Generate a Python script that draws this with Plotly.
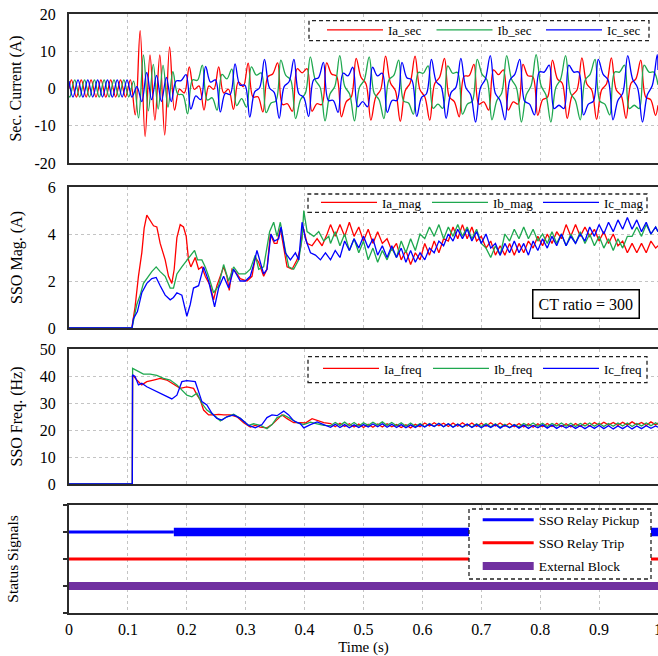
import plotly.graph_objects as go

FONT = "Liberation Serif, Times New Roman, serif"
RED = "#ff0000"
GREEN = "#1fa84f"
BLUE = "#0000ff"
PURPLE = "#7030a0"

# ---------------- Panel 1: secondary currents (time in ms, value in A) ----------------
IA_SEC_T = [0, 4.2, 12.5, 20.8, 29.2, 37.5, 45.8, 54.2, 62.5, 70.8, 79.2, 87.5, 95.8, 104.2, 112.5, 120.8,
            129.2, 137.5, 145.8, 154.2, 162.5, 170.8, 179.2, 187.5, 195.8, 204.2, 212.5, 220.8, 229.2, 237.5,
            245.8, 254.2, 262.5, 270.8, 279.2, 287.5, 295.8, 304.2, 312.5, 320.8, 329.2, 337.5, 345.8, 354.2,
            362.5, 370.8, 379.2, 387.5, 395.8, 404.2, 412.5, 420.8, 429.2, 437.5, 445.8, 454.2, 462.5, 470.8,
            479.2, 487.5, 495.8, 504.2, 512.5, 520.8, 529.2, 537.5, 545.8, 554.2, 562.5, 570.8, 579.2, 587.5,
            595.8, 604.2, 612.5, 620.8, 629.2, 637.5, 645.8, 654.2, 662.5, 670.8, 679.2, 687.5, 695.8, 704.2,
            712.5, 720.8, 729.2, 737.5, 745.8, 754.2, 762.5, 770.8, 779.2, 787.5, 795.8, 804.2, 812.5, 820.8,
            829.2, 837.5, 845.8, 854.2, 862.5, 870.8, 879.2, 887.5, 895.8, 904.2, 912.5, 920.8, 929.2, 937.5,
            945.8, 954.2, 962.5, 970.8, 979.2, 987.5, 995.8, 1000]
IA_SEC = [0.0, 2.3, -2.3, 2.3, -2.3, 2.3, -2.3, 2.3, -2.3, 2.3, -2.3, 2.3, -2.3, 2.3,
          -7.1, 15.5, -12.9, 9.0, -8.5, 9.0, -12.5, 11.2, -5.8,
          -0.2, -1.2, 5.8, -0.2, 0.7, -5.8, 0.7, -0.2, 5.8, -1.2, -0.2, -5.6, 1.8, 0.5,
          6.8, -2.3, -2.2, -6.3, 3.1,
          3.9, 6.9, -4.3, -4.1, -6.1, 5.3, 4.2, 5.3, -6.1, -4.1,
          -4.3, 6.9, 3.9, 3.3, -7.6, -3.5, -2.3, 8.1, 3.0, 1.3,
          -8.5, -2.3, -0.3, 8.7, 1.5, -0.6, -8.8, -0.6, 1.5, 8.7,
          -0.3, -2.3, -8.5, 1.3, 3.0, 8.1, -2.3, -3.5, -7.6, 3.3,
          3.4, 6.5, -4.2, -3.6, -5.8, 5.0, 3.7, 5.0, -5.8, -3.6,
          -4.2, 6.5, 3.4, 3.2, -7.2, -3.0, -2.3, 7.6, 2.6, 1.4,
          -8.0, -1.9, -0.4, 8.2, 1.2, -0.4, -8.3, -0.4, 1.2, 8.2,
          -0.4, -1.9, -8.0, 1.4, 2.6, 7.6, -2.3, -3.0, -7.2, -4.5]

IB_SEC_T = [0, 1.4, 9.7, 18.1, 26.4, 34.7, 43.1, 51.4, 59.7, 68.1, 76.4, 84.7, 93.1, 101.4, 109.7, 118.1,
            126.4, 134.7, 143.1, 151.4, 159.7, 168.1, 176.4, 184.7, 193.1, 201.4, 209.7, 218.1, 226.4, 234.7,
            243.1, 251.4, 259.7, 268.1, 276.4, 284.7, 293.1, 301.4, 309.7, 318.1, 326.4, 334.7, 343.1, 351.4,
            359.7, 368.1, 376.4, 384.7, 393.1, 401.4, 409.7, 418.1, 426.4, 434.7, 443.1, 451.4, 459.7, 468.1,
            476.4, 484.7, 493.1, 501.4, 509.7, 518.1, 526.4, 534.7, 543.1, 551.4, 559.7, 568.1, 576.4, 584.7,
            593.1, 601.4, 609.7, 618.1, 626.4, 634.7, 643.1, 651.4, 659.7, 668.1, 676.4, 684.7, 693.1, 701.4,
            709.7, 718.1, 726.4, 734.7, 743.1, 751.4, 759.7, 768.1, 776.4, 784.7, 793.1, 801.4, 809.7, 818.1,
            826.4, 834.7, 843.1, 851.4, 859.7, 868.1, 876.4, 884.7, 893.1, 901.4, 909.7, 918.1, 926.4, 934.7,
            943.1, 951.4, 959.7, 968.1, 976.4, 984.7, 993.1, 1000]
IB_SEC = [-2.0, -2.3, 2.3, -2.3, 2.3, -2.3, 2.3, -2.3, 2.3, -2.3, 2.3, -2.3, 2.3, -2.3,
          2.0, -7.9, 9.0, -6.0, 6.5, -5.5, 6.2, -5.0, 4.5,
          -1.5, -1.7, -6.8, 2.3, 2.2, 6.3, -3.1, -2.5, -5.8, 3.8, 2.6, 5.2, -4.6, -2.7,
          -5.0, 5.8, 3.6, 4.2, -6.5,
          -3.9, -3.3, 7.6, 3.5, 2.3, -8.1, -3.0, -1.3, 8.5, 2.3,
          0.3, -8.7, -1.5, 0.6, 8.8, 0.6, -1.5, -8.7, 0.3, 2.3,
          8.5, -1.3, -3.0, -8.1, 2.3, 3.5, 7.6, -3.3, -3.9, -6.9,
          4.3, 4.1, 6.1, -5.3, -4.2, -5.3, 6.1, 4.1, 4.3, -6.9,
          -4.2, -3.4, 7.8, 3.8, 2.3, -8.4, -3.2, -1.2, 8.8, 2.5,
          0.2, -9.0, -1.7, 0.8, 9.1, 0.8, -1.7, -9.0, 0.2, 2.5,
          8.8, -1.2, -3.2, -8.4, 2.3, 3.8, 7.8, -3.4, -4.2, -7.1,
          4.4, 4.4, 6.3, -5.4, -4.5, -5.4, 6.3, 4.4, 4.4, 1.0]

IC_SEC_T = [0, 6.9, 15.3, 23.6, 31.9, 40.3, 48.6, 56.9, 65.3, 73.6, 81.9, 90.3, 98.6, 106.9, 115.3, 123.6,
            131.9, 140.3, 148.6, 156.9, 165.3, 173.6, 181.9, 190.3, 198.6, 206.9, 215.3, 223.6, 231.9, 240.3,
            248.6, 256.9, 265.3, 273.6, 281.9, 290.3, 298.6, 306.9, 315.3, 323.6, 331.9, 340.3, 348.6, 356.9,
            365.3, 373.6, 381.9, 390.3, 398.6, 406.9, 415.3, 423.6, 431.9, 440.3, 448.6, 456.9, 465.3, 473.6,
            481.9, 490.3, 498.6, 506.9, 515.3, 523.6, 531.9, 540.3, 548.6, 556.9, 565.3, 573.6, 581.9, 590.3,
            598.6, 606.9, 615.3, 623.6, 631.9, 640.3, 648.6, 656.9, 665.3, 673.6, 681.9, 690.3, 698.6, 706.9,
            715.3, 723.6, 731.9, 740.3, 748.6, 756.9, 765.3, 773.6, 781.9, 790.3, 798.6, 806.9, 815.3, 823.6,
            831.9, 840.3, 848.6, 856.9, 865.3, 873.6, 881.9, 890.3, 898.6, 906.9, 915.3, 923.6, 931.9, 940.3,
            948.6, 956.9, 965.3, 973.6, 981.9, 990.3, 998.6, 1000]
IC_SEC = [2.0, -2.3, 2.3, -2.3, 2.3, -2.3, 2.3, -2.3, 2.3, -2.3, 2.3, -2.3, 2.3, -2.3,
          0.5, -3.5, 4.3, -3.0, 3.5, -3.5, 3.0, -3.5, 2.0,
          2.1, 3.7, -5.5, -2.0, -3.0, 5.9, 1.7, 2.3, -6.3, -1.3, -1.6, 6.6, 0.9, 0.9,
          -7.7, -0.9, 0.2, 7.8, 0.2,
          -1.1, -8.0, 0.5, 1.8, 7.8, -1.4, -2.4, -7.5, 2.3, 2.9,
          7.0, -3.2, -3.2, -6.4, 4.1, 3.4, 5.7, -4.9, -3.5, -4.9,
          5.7, 3.4, 4.1, -6.4, -3.2, -3.2, 7.0, 2.9, 2.3, -7.5,
          -2.4, -1.4, 7.8, 1.8, 0.5, -8.0, -1.1, 0.3, 8.1, 0.3,
          -1.7, -9.0, 0.2, 2.5, 8.8, -1.2, -3.2, -8.4, 2.3, 3.8,
          7.8, -3.4, -4.2, -7.1, 4.4, 4.4, 6.3, -5.4, -4.5, -5.4,
          6.3, 4.4, 4.4, -7.1, -4.2, -3.4, 7.8, 3.8, 2.3, -8.4,
          -3.2, -1.2, 8.8, 2.5, 0.2, -9.0, -1.7, 0.8, 9.1, 5.0]

# ---------------- shared late-time sampling (s) for panels 2 and 3 ----------------
LATE_T = [0.444, 0.452, 0.46, 0.468, 0.476, 0.484, 0.492, 0.5, 0.508, 0.516, 0.524, 0.532, 0.54, 0.548,
          0.556, 0.564, 0.572, 0.58, 0.588, 0.596, 0.604, 0.612, 0.62, 0.628, 0.636, 0.644, 0.652, 0.66,
          0.668, 0.676, 0.684, 0.692, 0.7, 0.708, 0.716, 0.724, 0.732, 0.74, 0.748, 0.756, 0.764, 0.772,
          0.78, 0.788, 0.796, 0.804, 0.812, 0.82, 0.828, 0.836, 0.844, 0.852, 0.86, 0.868, 0.876, 0.884,
          0.892, 0.9, 0.908, 0.916, 0.924, 0.932, 0.94, 0.948, 0.956, 0.964, 0.972, 0.98, 0.988, 0.996, 1.0]

# ---------------- Panel 2: SSO magnitude (A) ----------------
IA_MAG_T_EARLY = [0, 0.1066, 0.1122, 0.1179, 0.1236, 0.1276, 0.1321, 0.1378, 0.1435, 0.1491, 0.1548, 0.1633,
                  0.169, 0.1746, 0.1786, 0.1832, 0.1888, 0.1944, 0.199, 0.2029, 0.2069, 0.2143, 0.22, 0.2256,
                  0.2313, 0.2398, 0.2455, 0.2511, 0.2625, 0.2681, 0.2721, 0.2767, 0.2823, 0.2908, 0.3022,
                  0.3107, 0.3163, 0.322, 0.3305, 0.3361, 0.3418, 0.3486, 0.3532, 0.3588, 0.3645, 0.3702,
                  0.3787, 0.3872, 0.3929, 0.3974, 0.4042, 0.4127, 0.4212, 0.4297, 0.4382]
IA_MAG_EARLY = [0, 0, 0.9, 2.2, 3.2, 4.25, 4.8, 4.6, 4.35, 4.3, 3.6, 2.9, 2.2, 1.9, 2.5, 3.85, 4.4, 4.3, 3.9,
                2.9, 2.6, 3.0, 2.5, 2.6, 2.2, 1.8, 1.2, 1.8, 2.6, 2.2, 1.6, 2.5, 2.4, 2.1, 2.0, 2.2, 3.0, 2.8,
                2.2, 2.5, 4.0, 3.6, 3.6, 4.25, 3.5, 2.6, 2.5, 2.9, 3.4, 4.3, 3.6, 3.5, 3.8, 3.5, 4.0]
IA_MAG_LATE = [4.4, 3.9, 4.4, 3.9, 4.5, 3.9, 4.3, 3.7, 4.2, 3.6, 4.1, 3.6, 3.8, 3.3, 3.6,
               2.9, 3.3, 2.7, 3.2, 2.9, 3.6, 3.1, 3.7, 3.2, 3.8, 3.7, 4.3, 3.8, 4.4, 3.8, 4.3, 3.7,
               3.9, 3.4, 3.7, 3.1, 3.5, 3.1, 3.6, 3.1, 3.6, 3.2, 3.7, 3.4, 3.9, 3.5, 4.0, 3.6, 4.1, 3.8,
               4.4, 3.9, 4.4, 3.9, 4.3, 3.9, 4.2, 3.7, 4.1, 3.6, 4.0, 3.5, 3.7, 3.2, 3.6, 3.2, 3.6, 3.2,
               3.7, 3.4, 3.5]

IB_MAG_T_EARLY = [0, 0.107, 0.1151, 0.1208, 0.1264, 0.1321, 0.1406, 0.148, 0.1548, 0.1633, 0.1718, 0.1774,
                  0.1832, 0.1916, 0.2001, 0.2069, 0.2132, 0.2183, 0.2256, 0.2313, 0.237, 0.2455, 0.254,
                  0.2625, 0.271, 0.2795, 0.288, 0.2993, 0.3078, 0.3163, 0.322, 0.3305, 0.3406, 0.3475,
                  0.3532, 0.3588, 0.3673, 0.373, 0.3815, 0.39, 0.3957, 0.3986, 0.4042, 0.4156, 0.424,
                  0.4325, 0.441]
IB_MAG_EARLY = [0, 0, 1.0, 1.4, 1.9, 2.1, 2.4, 2.6, 2.4, 2.2, 1.7, 1.7, 2.3, 2.6, 2.9, 3.1, 3.3, 2.9, 2.9,
                2.6, 2.2, 1.5, 1.8, 2.7, 2.0, 2.6, 2.3, 2.3, 2.5, 3.1, 2.5, 2.6, 4.1, 4.5, 3.9, 4.5, 3.3,
                2.6, 2.5, 2.9, 3.8, 5.0, 4.1, 3.9, 4.1, 3.7, 3.9]
IB_MAG_LATE = [3.6, 4.1, 3.5, 4.0, 3.3, 3.8, 3.2, 3.7,
               2.9, 3.4, 2.8, 3.3, 2.9, 3.4, 3.0, 3.7, 3.2, 3.8, 3.3, 4.0,
               3.8, 4.3, 3.9, 4.4, 3.8, 4.3, 3.9, 4.4, 3.9, 4.3, 3.8, 4.2, 3.6,
               3.4, 3.0, 3.5, 3.1, 4.0, 3.7, 4.2, 3.8, 4.3, 3.8, 4.2, 3.7,
               4.0, 3.6, 4.1, 3.6, 4.0, 3.5, 4.0, 3.6, 4.1, 3.6, 4.0, 3.5, 3.9,
               3.4, 3.8, 3.3, 3.8, 3.4, 3.9, 3.9, 4.3, 3.9, 4.4, 4.0, 4.3, 4.1]

IC_MAG_T_EARLY = [0, 0.107, 0.1094, 0.1162, 0.1236, 0.1321, 0.1406, 0.148, 0.1548, 0.1633, 0.1718, 0.1774,
                  0.1832, 0.1916, 0.2001, 0.2058, 0.2114, 0.22, 0.2285, 0.237, 0.2472, 0.254, 0.2625,
                  0.271, 0.2795, 0.2908, 0.2993, 0.3078, 0.3135, 0.3191, 0.3248, 0.3305, 0.3361, 0.3429,
                  0.3486, 0.356, 0.36, 0.3673, 0.3759, 0.3844, 0.39, 0.3957, 0.4014, 0.41, 0.4184, 0.4269,
                  0.4354]
IC_MAG_EARLY = [0, 0, 0.4, 0.7, 1.5, 1.9, 2.1, 2.15, 1.8, 1.4, 1.2, 1.3, 1.5, 1.4, 0.5, 1.0, 1.7, 1.8, 2.6,
                2.0, 0.9, 1.7, 2.2, 1.7, 2.5, 2.0, 2.0, 2.2, 2.7, 3.3, 2.8, 2.3, 2.5, 4.0, 3.7, 3.8, 4.3,
                3.2, 2.9, 3.2, 2.9, 4.5, 3.8, 3.2, 3.1, 2.9, 3.2]
IC_MAG_LATE = [2.9, 3.3, 3.0,
               3.7, 3.3, 3.8, 3.4, 3.9, 3.4, 3.8,
               3.1, 3.5, 3.0, 3.5, 3.0, 3.4,
               2.8, 3.3, 2.8, 3.2, 2.9, 3.4, 3.2,
               3.7, 3.5, 4.0, 3.7, 4.2,
               3.8, 4.2, 3.7, 4.1, 3.6, 4.0, 3.4,
               3.6, 3.1, 3.6, 3.2, 3.7, 3.2, 3.6, 3.1, 3.7, 3.3,
               3.8, 3.4, 3.9, 3.5, 4.0, 3.5, 3.9, 3.6, 4.0, 3.7,
               4.3, 3.9, 4.4, 4.0, 4.5, 4.1, 4.6, 4.2,
               4.7, 4.2, 4.6, 4.1, 4.5, 4.0, 4.3, 4.1]

# ---------------- Panel 3: SSO frequency (Hz) ----------------
IA_FREQ_T_EARLY = [0, 0.1075, 0.108, 0.1151, 0.1236, 0.1321, 0.1435, 0.1548, 0.1661, 0.1774, 0.1888, 0.2001,
                   0.2115, 0.2171, 0.2228, 0.2285, 0.237, 0.2455, 0.254, 0.2625, 0.2738, 0.2851, 0.2965,
                   0.3078, 0.3163, 0.3248, 0.3361, 0.3446, 0.3532, 0.3617, 0.3702, 0.3815, 0.3929, 0.4014,
                   0.4127, 0.424, 0.4325]
IA_FREQ_EARLY = [0, 0, 40.4, 38.5, 36.7, 37.9, 38.5, 39.1, 38.5, 36.9, 35.4, 36.0, 35.4, 33.1, 31.1, 27.4,
                 25.6, 25.6, 25.8, 25.6, 25.6, 24.9, 22.7, 21.1, 21.7, 21.1, 20.8, 22.0, 24.0, 25.6, 24.2,
                 22.7, 22.7, 22.6, 24.2, 23.4, 22.7]
IA_FREQ_LATE = [22.4, 21.2, 22.5, 21.3, 22.3, 21.1, 22.2, 20.9, 22.1, 21.0,
                22.2, 21.1, 22.3, 21.2, 22.0, 20.9, 21.9, 20.8, 22.1, 21.2,
                22.6, 21.5, 22.7, 21.6, 22.5, 21.3, 22.6, 21.4, 22.7, 21.5,
                22.6, 21.3, 22.5, 21.4, 22.7, 21.5, 22.6, 21.4, 22.5, 21.2,
                22.4, 21.1, 22.3, 21.0, 22.3, 21.2, 22.4, 21.3, 22.5, 21.2,
                22.3, 21.1, 22.4, 21.3, 22.6, 21.5, 22.8, 21.7, 22.9, 21.8,
                22.8, 21.7, 22.9, 21.8, 23.0, 21.9, 22.8, 21.7, 23.0, 21.9, 22.6]

IB_FREQ_T_EARLY = [0, 0.1075, 0.108, 0.1151, 0.1264, 0.1378, 0.1491, 0.1604, 0.1718, 0.1832, 0.1916, 0.2001,
                   0.2086, 0.2171, 0.2256, 0.2341, 0.2455, 0.2568, 0.2681, 0.2795, 0.2908, 0.305, 0.3135,
                   0.3248, 0.3361, 0.3446, 0.3532, 0.3645, 0.3759, 0.3872, 0.3986, 0.4099, 0.4212, 0.4325]
IB_FREQ_EARLY = [0, 0, 42.8, 42.0, 40.7, 40.7, 40.2, 39.1, 38.5, 36.7, 34.8, 32.9, 32.3, 33.6, 29.9, 27.4,
                 25.6, 23.4, 24.9, 25.8, 24.3, 21.7, 22.3, 21.7, 20.5, 22.0, 24.6, 25.6, 24.2, 22.7, 22.0,
                 22.9, 22.3, 21.7]
IB_FREQ_LATE = [21.6, 22.8, 21.7, 22.9, 21.6, 22.8, 21.5, 22.7, 21.7, 22.9,
                21.8, 23.0, 21.7, 22.8, 21.6, 22.7, 21.4, 22.6, 21.3, 22.4,
                21.2, 22.4, 21.3, 22.5, 21.2, 22.3, 21.1, 22.2, 21.0, 22.1,
                21.1, 22.3, 21.3, 22.4, 21.2, 22.3, 21.0, 22.1, 20.9, 22.0,
                21.2, 22.4, 21.5, 22.6, 21.4, 22.5, 21.3, 22.4, 21.5, 22.6,
                21.4, 22.5, 21.3, 22.4, 21.5, 22.6, 21.4, 22.5, 21.3, 22.4,
                21.4, 22.6, 21.5, 22.6, 21.3, 22.4, 21.5, 22.6, 21.6, 22.7, 22.0]

IC_FREQ_T_EARLY = [0, 0.1075, 0.1078, 0.1122, 0.1179, 0.1236, 0.1321, 0.1435, 0.1548, 0.1661, 0.1746,
                   0.1832, 0.1916, 0.2001, 0.2143, 0.22, 0.2256, 0.2341, 0.2426, 0.2511, 0.2596, 0.2681,
                   0.2795, 0.2908, 0.305, 0.3163, 0.3276, 0.3361, 0.3446, 0.3532, 0.3645, 0.373, 0.3815,
                   0.3929, 0.3986, 0.4099, 0.4212, 0.4325]
IC_FREQ_EARLY = [0, 0, 40.4, 39.8, 36.7, 37.3, 36.0, 34.8, 33.6, 32.3, 31.5, 32.9, 37.9, 38.3, 37.9, 34.2,
                 30.5, 29.3, 26.2, 24.3, 23.7, 24.9, 25.6, 24.3, 21.7, 20.8, 22.0, 24.6, 25.6, 25.3, 27.0,
                 25.6, 23.4, 22.3, 20.8, 22.0, 23.0, 22.0]
IC_FREQ_LATE = [21.0, 22.1, 20.9, 22.0, 20.8, 21.9, 20.9, 22.0, 21.1, 22.2,
                21.2, 22.3, 21.0, 22.1, 20.9, 22.0, 20.8, 21.9, 20.9, 22.0,
                21.1, 22.2, 21.3, 22.4, 21.2, 22.3, 21.0, 22.1, 21.1, 22.2,
                20.9, 22.0, 20.8, 21.9, 20.9, 22.0, 20.7, 21.8, 20.8, 21.9,
                20.7, 21.8, 20.6, 21.7, 20.8, 21.9, 20.7, 21.8, 20.6, 21.7,
                20.7, 21.7, 20.6, 21.6, 20.5, 21.6, 20.6, 21.7, 20.5, 21.6,
                20.4, 21.5, 20.5, 21.6, 20.4, 21.5, 20.5, 21.6, 20.6, 21.5, 21.0]

# ---------------- Panel 4: status signals ----------------
STATUS_T = [0.0, 1.0]
PICKUP_LEVEL = 3
TRIP_LEVEL = 2
BLOCK_LEVEL = 1
PICKUP_START = 0.178

fig = go.Figure()


def sec(lst):
    return [v / 1000.0 for v in lst]


for name, t, v, c in [("Ia_sec", IA_SEC_T, IA_SEC, RED), ("Ib_sec", IB_SEC_T, IB_SEC, GREEN),
                      ("Ic_sec", IC_SEC_T, IC_SEC, BLUE)]:
    fig.add_trace(go.Scatter(x=sec(t), y=v, name=name, mode="lines",
                             line=dict(color=c, width=1.3, shape="spline", smoothing=1.0),
                             xaxis="x", yaxis="y", legend="legend"))

for name, te, ve, vl, c in [("Ia_mag", IA_MAG_T_EARLY, IA_MAG_EARLY, IA_MAG_LATE, RED),
                            ("Ib_mag", IB_MAG_T_EARLY, IB_MAG_EARLY, IB_MAG_LATE, GREEN),
                            ("Ic_mag", IC_MAG_T_EARLY, IC_MAG_EARLY, IC_MAG_LATE, BLUE)]:
    fig.add_trace(go.Scatter(x=te + LATE_T, y=ve + vl, name=name, mode="lines",
                             line=dict(color=c, width=1.3), xaxis="x2", yaxis="y2", legend="legend2"))

for name, te, ve, vl, c in [("Ia_freq", IA_FREQ_T_EARLY, IA_FREQ_EARLY, IA_FREQ_LATE, RED),
                            ("Ib_freq", IB_FREQ_T_EARLY, IB_FREQ_EARLY, IB_FREQ_LATE, GREEN),
                            ("Ic_freq", IC_FREQ_T_EARLY, IC_FREQ_EARLY, IC_FREQ_LATE, BLUE)]:
    fig.add_trace(go.Scatter(x=te + LATE_T, y=ve + vl, name=name, mode="lines",
                             line=dict(color=c, width=1.3), xaxis="x3", yaxis="y3", legend="legend3"))

fig.add_trace(go.Scatter(x=[STATUS_T[0], PICKUP_START], y=[PICKUP_LEVEL, PICKUP_LEVEL],
                         name="SSO Relay Pickup", mode="lines", line=dict(color=BLUE, width=3),
                         xaxis="x4", yaxis="y4", legend="legend4", legendgroup="p"))
fig.add_trace(go.Scatter(x=[PICKUP_START, STATUS_T[1]], y=[PICKUP_LEVEL, PICKUP_LEVEL],
                         name="SSO Relay Pickup", mode="lines", line=dict(color=BLUE, width=8.5),
                         xaxis="x4", yaxis="y4", legend="legend4", legendgroup="p", showlegend=False))
fig.add_trace(go.Scatter(x=STATUS_T, y=[TRIP_LEVEL, TRIP_LEVEL], name="SSO Relay Trip", mode="lines",
                         line=dict(color=RED, width=3), xaxis="x4", yaxis="y4", legend="legend4",
                         legendgroup="t"))
fig.add_trace(go.Scatter(x=STATUS_T, y=[BLOCK_LEVEL, BLOCK_LEVEL], name="External Block", mode="lines",
                         line=dict(color=PURPLE, width=8), xaxis="x4", yaxis="y4", legend="legend4",
                         legendgroup="b"))

W, H = 658, 656
ML, MR, MT, MB = 69, 0, 14, 43
PW = W - ML - MR
PH = H - MT - MB


def py(pix):
    return (H - MB - pix) / PH


def px(pix):
    return (pix - ML) / PW


GRID = dict(showgrid=True, gridcolor="#c4c4c4", gridwidth=1, griddash="3px,3px")
LINE = dict(showline=True, linecolor="#2b2b2b", linewidth=2, zeroline=False, automargin=False)
TICKF = dict(family=FONT, size=16, color="#000")
TITLEF = dict(family=FONT, size=16, color="#000")

layout = dict(
    width=W, height=H, margin=dict(l=ML, r=MR, t=MT, b=MB),
    paper_bgcolor="white", plot_bgcolor="white", font=dict(family=FONT, color="#000"),
)

doms = [(py(163), py(14)), (py(328), py(187)), (py(484), py(349)), (py(613), py(505))]
for i in range(4):
    sfx = "" if i == 0 else str(i + 1)
    layout["xaxis" + sfx] = dict(domain=[0, 1], anchor="y" + sfx, range=[0, 1], tick0=0, dtick=0.1,
                                 mirror=True, ticks="", showticklabels=(i == 3), tickfont=TICKF,
                                 ticklabelstandoff=1, ticklabeloverflow="allow", **GRID, **LINE)
    if i > 0:
        layout["xaxis" + sfx]["matches"] = "x"

layout["xaxis4"]["title"] = dict(text="Time (s)", font=dict(family=FONT, size=15, color="#000"), standoff=13)

layout["yaxis"] = dict(domain=list(doms[0]), anchor="x", range=[-20, 20], tickvals=[-20, -10, 0, 10, 20],
                       ticktext=["-20", "-10", "0", "10", "20"], ticks="", tickfont=TICKF,
                       ticklabelstandoff=8, title=dict(text="Sec. Current (A)", font=TITLEF, standoff=9),
                       **GRID, **LINE)
layout["yaxis2"] = dict(domain=list(doms[1]), anchor="x2", range=[0, 6], tickvals=[0, 2, 4, 6],
                        ticks="", tickfont=TICKF, ticklabelstandoff=8,
                        title=dict(text="SSO Mag. (A)", font=TITLEF, standoff=21), **GRID, **LINE)
layout["yaxis3"] = dict(domain=list(doms[2]), anchor="x3", range=[0, 50], tickvals=[0, 10, 20, 30, 40, 50],
                        ticks="", tickfont=TICKF, ticklabelstandoff=8,
                        title=dict(text="SSO Freq. (Hz)", font=TITLEF, standoff=13), **GRID, **LINE)
layout["yaxis4"] = dict(domain=list(doms[3]), anchor="x4", range=[0, 4], tickvals=[0, 1, 2, 3, 4],
                        ticks="outside", ticklen=4, tickcolor="#2b2b2b", tickwidth=1.5,
                        showticklabels=False, showgrid=False,
                        title=dict(text="Status Signals", font=dict(family=FONT, size=15.5, color="#000"),
                                   standoff=41), **LINE)

LEGF = dict(family=FONT, size=13, color="#000")
hleg = dict(orientation="h", xanchor="left", yanchor="top", bgcolor="rgba(0,0,0,0)", borderwidth=0,
            font=LEGF, itemwidth=56, entrywidthmode="pixels", itemclick=False, itemdoubleclick=False)
layout["legend"] = dict(x=px(322), y=py(15), entrywidth=38.5, **hleg)
layout["legend2"] = dict(x=px(316), y=py(187.5), entrywidth=40, **hleg)
layout["legend3"] = dict(x=px(318), y=py(353.5), entrywidth=39, **hleg)
layout["legend4"] = dict(x=px(477.7), y=py(504.5), xanchor="left", yanchor="top", orientation="v",
                         bgcolor="rgba(0,0,0,0)", borderwidth=0, font=dict(family=FONT, size=13.5, color="#000"),
                         itemwidth=51, tracegroupgap=2.5, itemclick=False, itemdoubleclick=False)

boxes = [(309, 649, 20.7, 40.7), (308, 647, 194, 212.3), (308, 647, 356.7, 382.7), (469, 651, 509, 579)]
shapes = []
for x0, x1, y0, y1 in boxes:
    shapes.append(dict(type="rect", xref="paper", yref="paper", x0=px(x0), x1=px(x1), y0=py(y1), y1=py(y0),
                       line=dict(color="#222", width=1.3, dash="4px,3px"), fillcolor="white", layer="above"))
layout["shapes"] = shapes

layout["annotations"] = [dict(text="CT ratio = 300", xref="paper", yref="paper", x=px(585.5), y=py(303.7),
                              xanchor="center", yanchor="middle", showarrow=False,
                              font=dict(family=FONT, size=16, color="#000"), bgcolor="white",
                              bordercolor="#000", borderwidth=1.5, borderpad=5)]

fig.update_layout(**layout)
fig.write_html("out.html", config={"displayModeBar": False},
               post_script="document.body.style.margin='0';document.body.style.overflow='hidden';")
